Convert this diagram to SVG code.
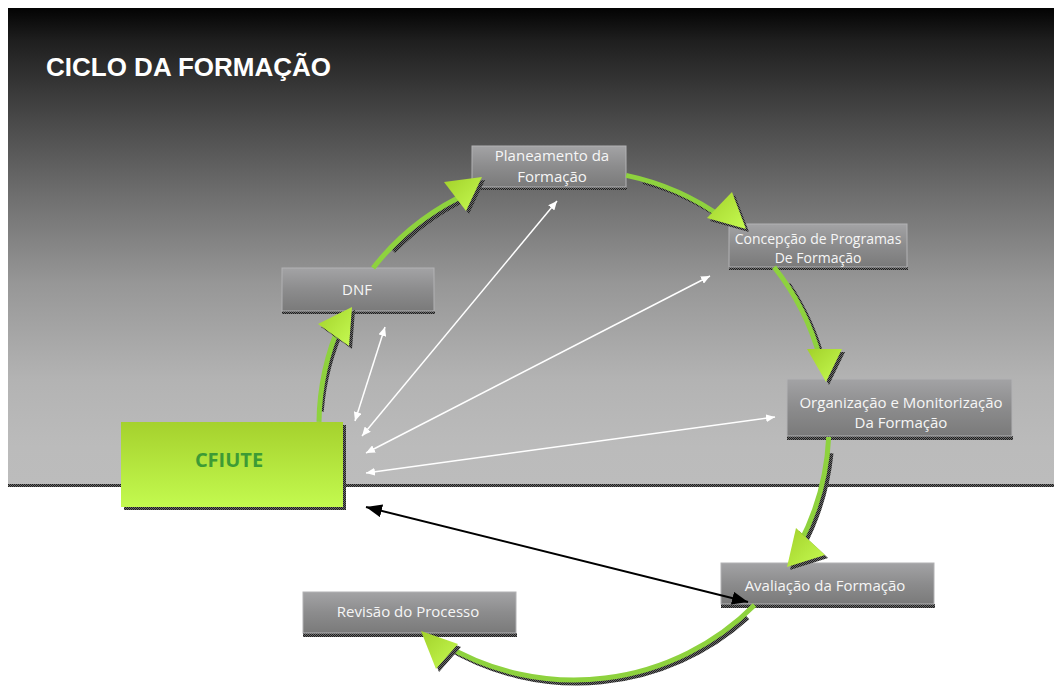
<svg xmlns="http://www.w3.org/2000/svg" width="1054" height="686" viewBox="0 0 1054 686">
  <defs>
    <style>
      .nodetxt { font-family: "Open Sans", "Liberation Sans", sans-serif; font-size: 15px; fill: #f6f6f6; text-anchor: middle; }
      .small { font-size: 14px; }
      .box { fill: url(#boxGrad); stroke: #b2b2b4; stroke-width: 1; }
      .shadow { fill: url(#dith); }
      .arc { fill: none; stroke: #8ed23e; stroke-width: 5; }
      .arcsh { fill: none; stroke: url(#dith); stroke-width: 5; }
      .head { fill: url(#headGrad); }
      .headsh { fill: url(#dith); }
      .wline { stroke: #ffffff; stroke-width: 1.5; fill: none; marker-start: url(#wh); marker-end: url(#wh); }
      .bline { stroke: #000000; stroke-width: 2; fill: none; marker-start: url(#bk); marker-end: url(#bk); }
    </style>
    <linearGradient id="bgGrad" x1="0" y1="0" x2="0" y2="1">
      <stop offset="0" stop-color="#030303"/>
      <stop offset="0.07" stop-color="#1f1f1f"/>
      <stop offset="0.24" stop-color="#4a4a4a"/>
      <stop offset="0.40" stop-color="#707070"/>
      <stop offset="0.58" stop-color="#979797"/>
      <stop offset="0.78" stop-color="#b3b3b3"/>
      <stop offset="0.92" stop-color="#bbbbbb"/>
      <stop offset="1" stop-color="#bcbcbc"/>
    </linearGradient>
    <linearGradient id="boxGrad" x1="0" y1="0" x2="0" y2="1">
      <stop offset="0" stop-color="#a3a3a5"/>
      <stop offset="0.5" stop-color="#8c8c8d"/>
      <stop offset="1" stop-color="#7a7a7a"/>
    </linearGradient>
    <linearGradient id="greenGrad" x1="0" y1="0" x2="0" y2="1">
      <stop offset="0" stop-color="#a5d12d"/>
      <stop offset="1" stop-color="#c3fa4f"/>
    </linearGradient>
    <linearGradient id="headGrad" x1="0" y1="0" x2="1" y2="1">
      <stop offset="0" stop-color="#a2d12a"/>
      <stop offset="1" stop-color="#c6fb52"/>
    </linearGradient>
    <pattern id="dith" width="2" height="2" patternUnits="userSpaceOnUse">
      <rect width="2" height="2" fill="#6a6a6a"/>
      <rect width="1" height="1" fill="#1e1e1e"/>
      <rect x="1" y="1" width="1" height="1" fill="#1e1e1e"/>
    </pattern>
    <marker id="wh" viewBox="0 0 10 10" refX="10" refY="5" markerWidth="9" markerHeight="8" markerUnits="userSpaceOnUse" orient="auto-start-reverse" preserveAspectRatio="none">
      <path d="M0,0 L10,5 L0,10 z" fill="#ffffff"/>
    </marker>
    <marker id="bk" viewBox="0 0 10 10" refX="10" refY="5" markerWidth="16" markerHeight="13" markerUnits="userSpaceOnUse" orient="auto-start-reverse" preserveAspectRatio="none">
      <path d="M0,0 L10,5 L0,10 z" fill="#000000"/>
    </marker>
  </defs>

  <rect x="0" y="0" width="1054" height="686" fill="#ffffff"/>
  <g id="background">
    <rect x="8" y="484" width="1046" height="3" class="shadow"/>
    <rect x="8" y="8" width="1046" height="476" fill="url(#bgGrad)"/>
    <text x="46" y="76" font-family="'Liberation Sans', Arial, sans-serif" font-size="26" font-weight="bold" fill="#ffffff">CICLO DA FORMAÇÃO</text>
  </g>

  <g id="node-cfiute">
    <rect x="343" y="425" width="3" height="85" class="shadow"/>
    <rect x="124" y="507" width="222" height="3" class="shadow"/>
    <rect x="121" y="422" width="222" height="85" fill="url(#greenGrad)"/>
    <text x="229" y="467" font-family="'Open Sans', 'Liberation Sans', sans-serif" font-size="20" font-weight="bold" fill="#3d9b35" text-anchor="middle">CFIUTE</text>
  </g>

  <g id="node-dnf">
    <rect x="282" y="311" width="153" height="3" class="shadow"/>
    <rect x="282" y="268" width="152" height="43" class="box"/>
    <text x="357" y="295" class="nodetxt">DNF</text>
  </g>

  <g id="node-planeamento">
    <rect x="472" y="187" width="155" height="3" class="shadow"/>
    <rect x="472" y="146" width="154" height="41" class="box"/>
    <text x="552" y="161" class="nodetxt">Planeamento da</text>
    <text x="552" y="182" class="nodetxt">Formação</text>
  </g>

  <g id="node-concepcao">
    <rect x="729" y="267" width="179" height="3" class="shadow"/>
    <rect x="729" y="224" width="178" height="43" class="box"/>
    <text x="818" y="244" class="nodetxt small">Concepção de Programas</text>
    <text x="818" y="263" class="nodetxt small">De Formação</text>
  </g>

  <g id="node-organizacao">
    <rect x="787" y="436" width="226" height="4" class="shadow"/>
    <rect x="787" y="379" width="225" height="57" class="box"/>
    <text x="901" y="408" class="nodetxt">Organização e Monitorização</text>
    <text x="901" y="428" class="nodetxt">Da Formação</text>
  </g>

  <g id="node-avaliacao">
    <rect x="721" y="604" width="214" height="4" class="shadow"/>
    <rect x="721" y="563" width="213" height="41" class="box"/>
    <text x="825" y="591" class="nodetxt">Avaliação da Formação</text>
  </g>

  <g id="node-revisao">
    <rect x="303" y="633" width="214" height="4" class="shadow"/>
    <rect x="303" y="592" width="213" height="41" class="box"/>
    <text x="408" y="617" class="nodetxt">Revisão do Processo</text>
  </g>

  <g id="connectors">
    <g transform="translate(3,3)">
      <path class="arcsh" d="M318.2,408.5 A255 255 0 0 1 341.1,321.3"/>
      <path class="arcsh" d="M390.4,248.3 A255 255 0 0 1 470.3,192.1"/>
      <path class="arcsh" d="M640.0,178.7 A255 255 0 0 1 723.9,218.7"/>
      <path class="arcsh" d="M785.3,281.4 A255 255 0 0 1 820.3,359.0"/>
      <path class="arcsh" d="M828.0,450.3 A255 255 0 0 1 799.2,544.7"/>
      <path class="arcsh" d="M744.6,614.5 A255 255 0 0 1 442.7,643.6"/>
    </g>
    <path class="arc" d="M319.0,421.9 A255 255 0 0 1 341.1,321.3"/>
    <path class="arc" d="M373.1,268.0 A255 255 0 0 1 470.3,192.1"/>
    <path class="arc" d="M626.1,175.4 A255 255 0 0 1 723.9,218.7"/>
    <path class="arc" d="M774.1,267.0 A255 255 0 0 1 820.3,359.0"/>
    <path class="arc" d="M828.7,437.0 A255 255 0 0 1 799.2,544.7"/>
    <path class="arc" d="M754.6,605.0 A255 255 0 0 1 442.7,643.6"/>
    <g transform="translate(3,3)">
      <polygon class="headsh" points="352,307 318,324 349,346"/>
      <polygon class="headsh" points="482,177 444,182 466,211"/>
      <polygon class="headsh" points="746,229 732,192 707,218"/>
      <polygon class="headsh" points="826,382 807,349 842,349"/>
      <polygon class="headsh" points="787,567 796,528 825,555"/>
      <polygon class="headsh" points="421,631 458,644 436,669"/>
    </g>
    <polygon class="head" points="352,307 318,324 349,346"/>
    <polygon class="head" points="482,177 444,182 466,211"/>
    <polygon class="head" points="746,229 732,192 707,218"/>
    <polygon class="head" points="826,382 807,349 842,349"/>
    <polygon class="head" points="787,567 796,528 825,555"/>
    <polygon class="head" points="421,631 458,644 436,669"/>
    <line class="wline" x1="355" y1="421" x2="385" y2="327"/>
    <line class="wline" x1="362" y1="436" x2="557" y2="201"/>
    <line class="wline" x1="366" y1="453" x2="710" y2="276"/>
    <line class="wline" x1="366" y1="473" x2="775" y2="417"/>
    <line class="bline" x1="366" y1="507" x2="748" y2="602"/>
  </g>
</svg>
